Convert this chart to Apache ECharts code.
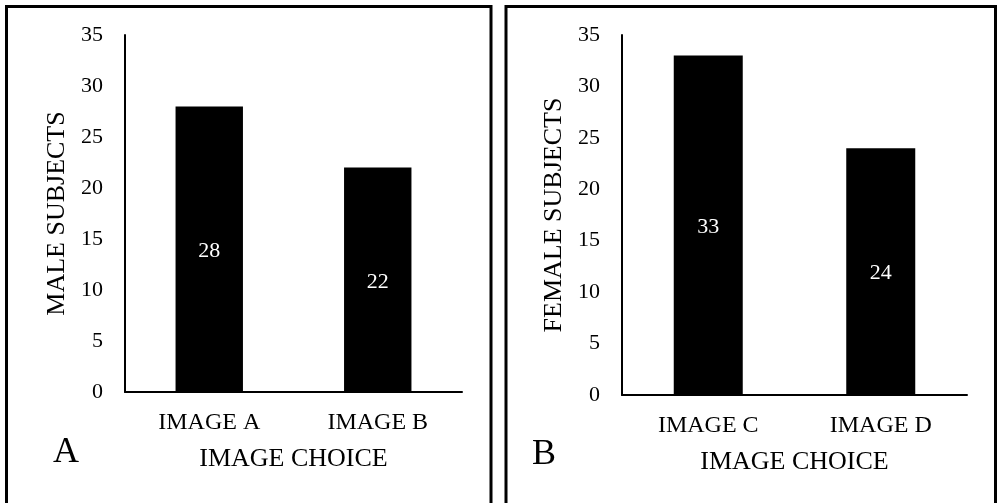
<!DOCTYPE html>
<html>
<head>
<meta charset="utf-8">
<script src="https://cdn.jsdelivr.net/npm/echarts@6/dist/echarts.min.js"></script>
<style>
html,body{margin:0;padding:0;background:#fff;}
#chart{width:997px;height:503px;}
</style>
</head>
<body>
<div id="chart"></div>
<script>
const maleCategories = ['IMAGE A', 'IMAGE B'];
const maleValues = [28, 22];
const femaleCategories = ['IMAGE C', 'IMAGE D'];
const femaleValues = [33, 24];
const yMin = 0, yMax = 35, yInterval = 5;
const panelLetters = ['A', 'B'];
const xAxisTitle = 'IMAGE CHOICE';
const yAxisTitles = ['MALE SUBJECTS', 'FEMALE SUBJECTS'];

const FONT = '"Liberation Serif", "Times New Roman", serif';

function xAxisCfg(idx, cats) {
  return {
    type: 'category', gridIndex: idx, data: cats,
    name: xAxisTitle, nameLocation: 'middle', nameGap: 54,
    nameTextStyle: { fontFamily: FONT, fontSize: 26, color: '#000' },
    axisLine: { lineStyle: { color: '#000', width: 2 } },
    axisTick: { show: false },
    axisLabel: { fontFamily: FONT, fontSize: 24, color: '#000', margin: 19 }
  };
}
function yAxisCfg(idx, title) {
  return {
    type: 'value', gridIndex: idx, min: yMin, max: yMax, interval: yInterval,
    name: title, nameLocation: 'middle', nameGap: 55, nameRotate: 90,
    nameTextStyle: { fontFamily: FONT, fontSize: 26, color: '#000' },
    axisLine: { show: true, lineStyle: { color: '#000', width: 2 } },
    axisTick: { show: false },
    splitLine: { show: false },
    axisLabel: { fontFamily: FONT, fontSize: 22, color: '#000', margin: 22 }
  };
}
function barSeries(idx, vals) {
  return {
    type: 'bar', xAxisIndex: idx, yAxisIndex: idx, data: vals,
    barWidth: '40%',
    itemStyle: { color: '#000' },
    label: { show: true, position: 'inside', color: '#fff', fontFamily: FONT, fontSize: 22, offset: [0, 2] }
  };
}

const chart = echarts.init(document.getElementById('chart'), null, { renderer: 'canvas' });
chart.setOption({
  animation: false,
  backgroundColor: '#fff',
  grid: [
    { left: 125, top: 35, right: 535, bottom: 111 },
    { left: 622, top: 35, right: 30, bottom: 108 }
  ],
  xAxis: [xAxisCfg(0, maleCategories), xAxisCfg(1, femaleCategories)],
  yAxis: [yAxisCfg(0, yAxisTitles[0]), yAxisCfg(1, yAxisTitles[1])],
  series: [barSeries(0, maleValues), barSeries(1, femaleValues)],
  graphic: [
    { type: 'rect', shape: { x: 6.5, y: 6.5, width: 484.5, height: 520 }, style: { fill: 'none', stroke: '#000', lineWidth: 3 } },
    { type: 'rect', shape: { x: 506, y: 6.5, width: 489.5, height: 520 }, style: { fill: 'none', stroke: '#000', lineWidth: 3 } },
    { type: 'text', x: 66, y: 453, style: { text: panelLetters[0], fontFamily: FONT, fontSize: 36, fill: '#000', textAlign: 'center', textVerticalAlign: 'middle' } },
    { type: 'text', x: 544, y: 455, style: { text: panelLetters[1], fontFamily: FONT, fontSize: 36, fill: '#000', textAlign: 'center', textVerticalAlign: 'middle' } }
  ]
});
</script>
</body>
</html>
